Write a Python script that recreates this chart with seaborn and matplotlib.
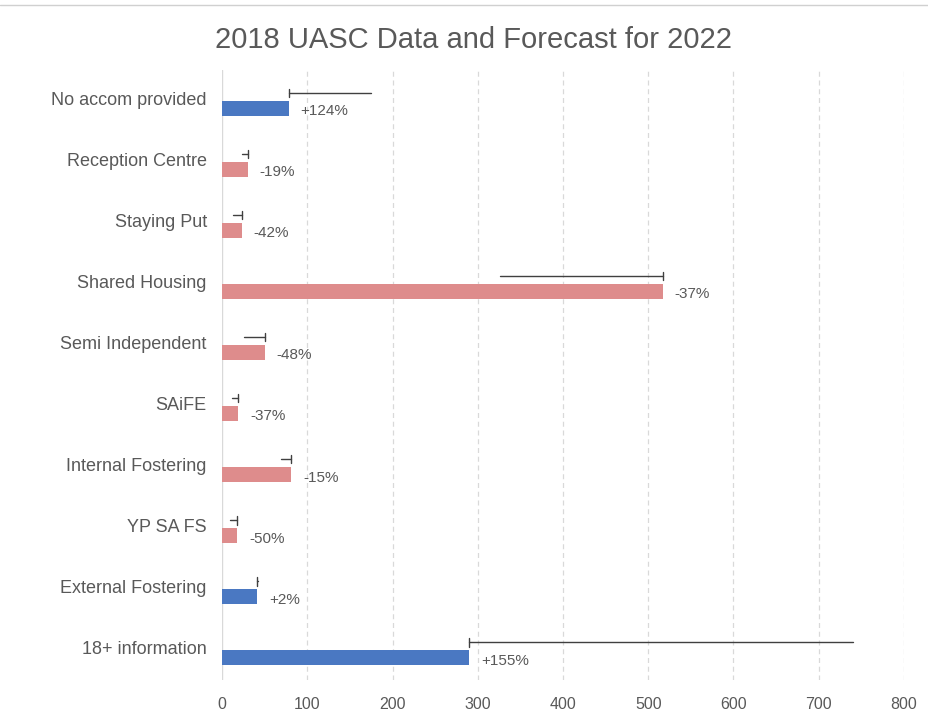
import matplotlib
matplotlib.use("Agg")
import matplotlib.pyplot as plt
import seaborn as sns
import pandas as pd
from matplotlib.lines import Line2D

categories = ["No accom provided", "Reception Centre", "Staying Put", "Shared Housing",
              "Semi Independent", "SAiFE", "Internal Fostering", "YP SA FS",
              "External Fostering", "18+ information"]
values_2018 = [78, 30, 23, 517, 50, 19, 81, 18, 41, 290]
forecast_2022 = [175, 24, 13, 326, 26, 12, 69, 9, 42, 740]
change_labels = ["+124%", "-19%", "-42%", "-37%", "-48%", "-37%", "-15%", "-50%", "+2%", "+155%"]
x_ticks = [0, 100, 200, 300, 400, 500, 600, 700, 800]

BLUE = "#4A78C2"
PINK = "#DE8C8C"
GRAY = "#595959"

df = pd.DataFrame({"category": categories, "value": values_2018,
                   "trend": ["up" if f >= v else "down" for v, f in zip(values_2018, forecast_2022)]})

sns.set_style("white")
plt.rcParams["font.family"] = ["Liberation Sans", "DejaVu Sans"]

fig = plt.figure(figsize=(9.29, 7.19), dpi=100)
ax = fig.add_axes([0.239, 0.054, 0.734, 0.849])

sns.barplot(data=df, y="category", x="value", hue="trend",
            palette={"up": BLUE, "down": PINK}, order=categories,
            width=0.25, dodge=False, legend=False, ax=ax, orient="h",
            saturation=1)

bar_off = 0.13
line_off = -0.12
for p in ax.patches:
    p.set_y(p.get_y() + bar_off)
    p.set_edgecolor("none")

for i, (v, f, lab) in enumerate(zip(values_2018, forecast_2022, change_labels)):
    yl = i + line_off
    ax.plot([min(v, f), max(v, f)], [yl, yl], color="#404040", lw=1.0, zorder=4)
    ax.plot([v, v], [yl - 0.07, yl + 0.07], color="#404040", lw=1.0, zorder=4)
    ax.text(v + 14, i + bar_off + 0.05, lab, ha="left", va="center",
            fontsize=11, color=GRAY)

ax.set_xlim(0, 800)
ax.set_ylim(9.5, -0.5)
ax.set_xticks(x_ticks)
ax.set_xticklabels([str(t) for t in x_ticks])
for t in x_ticks[1:]:
    ax.axvline(t, color="#D9D9D9", lw=0.9, ls=(0, (4, 3)), zorder=0)
ax.axvline(0, color="#D9D9D9", lw=1.0, zorder=0)
for s in ax.spines.values():
    s.set_visible(False)
ax.set_xlabel("")
ax.set_ylabel("")
ax.tick_params(axis="x", length=0, pad=12, labelsize=11.5, labelcolor=GRAY)
ax.tick_params(axis="y", length=0, pad=11, labelsize=13, labelcolor=GRAY)
for lbl in ax.get_yticklabels():
    lbl.set_va("center")

fig.text(0.51, 0.944, "2018 UASC Data and Forecast for 2022", ha="center", va="center",
         fontsize=21, color=GRAY)
fig.add_artist(Line2D([0, 1], [0.993, 0.993], transform=fig.transFigure, color="#D0D0D0", lw=1))

fig.savefig("out.png", dpi=100)
